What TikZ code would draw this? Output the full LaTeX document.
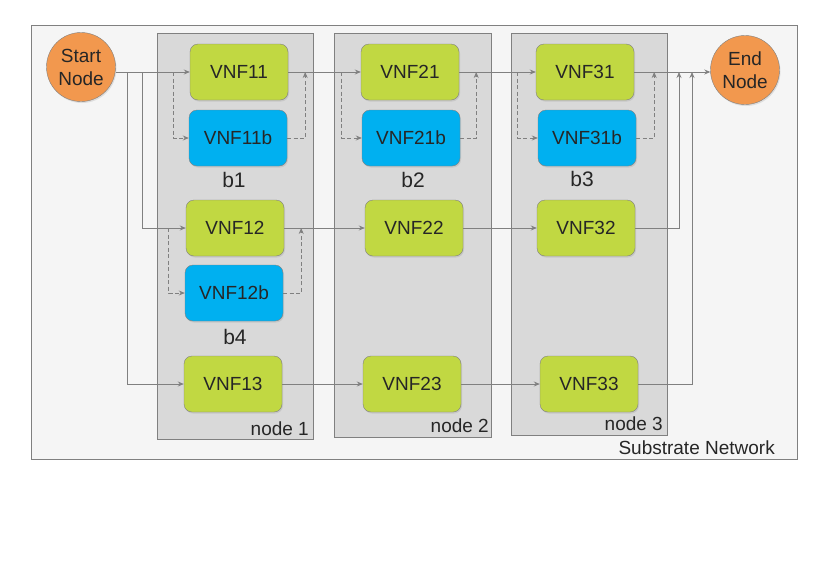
\documentclass[tikz,border=0pt]{standalone}
\usepackage{fontspec}
\setmainfont{Liberation Sans}
\usetikzlibrary{arrows.meta,shadows}
\definecolor{vnfgreen}{RGB}{193,216,66}
\definecolor{vnfblue}{RGB}{0,176,240}
\definecolor{endorange}{RGB}{242,152,78}
\definecolor{boxgray}{RGB}{217,217,217}
\definecolor{linegray}{RGB}{128,128,128}
\definecolor{textgray}{RGB}{38,38,38}
\tikzset{
  vnf/.style={draw=linegray, fill=vnfgreen, rounded corners=8pt, minimum width=98pt,
    minimum height=56pt, text=textgray, font=\fontsize{19}{22}\selectfont,
    drop shadow={opacity=0.2, shadow xshift=1pt, shadow yshift=-1.5pt}},
  backup/.style={vnf, fill=vnfblue},
  endpoint/.style={circle, draw=linegray, fill=endorange, minimum size=69pt, inner sep=0pt,
    align=center, text=textgray, font=\fontsize{19}{23}\selectfont,
    drop shadow={opacity=0.2, shadow xshift=1pt, shadow yshift=-1.5pt}},
  server/.style={draw=linegray, fill=boxgray},
  label/.style={text=textgray, font=\fontsize{19}{22}\selectfont, inner sep=0pt},
  flow/.style={draw=linegray, line width=0.8pt, -{Stealth[length=6pt,width=5pt]}},
  bflow/.style={flow, dash pattern=on 4pt off 2.5pt}
}
\begin{document}
\begin{tikzpicture}[x=1pt, y=-1pt]
        \useasboundingbox (0,0) rectangle (830,587);
        % substrate network
        \draw[linegray, fill=gray!8] (31,25) rectangle (797,459);
        \node[label, anchor=east] (sub) at (775,448) {Substrate Network};
        % physical nodes
        \draw[server] (157,33) rectangle (313,439);
        \draw[server] (334,33) rectangle (491,437);
        \draw[server] (511,33) rectangle (667,435);
        \node[label, anchor=east] (n1) at (309,429) {node 1};
        \node[label, anchor=east] (n2) at (489,426) {node 2};
        \node[label, anchor=east] (n3) at (663,424) {node 3};
        % end points
        \node[endpoint] (start) at (81,67) {Start\\Node};
        \node[endpoint] (end) at (745,70) {End\\Node};
        % vnfs
        \node[vnf] (vnf11) at (239,72) {VNF11};
        \node[backup] (vnf11b) at (238,138) {VNF11b};
        \node[vnf] (vnf21) at (410,72) {VNF21};
        \node[backup] (vnf21b) at (411,138) {VNF21b};
        \node[vnf] (vnf31) at (585,72) {VNF31};
        \node[backup] (vnf31b) at (587,138) {VNF31b};
        \node[vnf] (vnf12) at (235,228) {VNF12};
        \node[backup] (vnf12b) at (234,293) {VNF12b};
        \node[vnf] (vnf22) at (414,228) {VNF22};
        \node[vnf] (vnf32) at (586,228) {VNF32};
        \node[vnf] (vnf13) at (233,384) {VNF13};
        \node[vnf] (vnf23) at (412,384) {VNF23};
        \node[vnf] (vnf33) at (589,384) {VNF33};
        % backup names
        \node[label, font=\fontsize{21}{24}\selectfont] (b1) at (234,180) {b1};
        \node[label, font=\fontsize{21}{24}\selectfont] (b2) at (413,180) {b2};
        \node[label, font=\fontsize{21}{24}\selectfont] (b3) at (582,179) {b3};
        \node[label, font=\fontsize{21}{24}\selectfont] (b4) at (235,337) {b4};
        % junctions
        \coordinate (s2) at (142,72);
        \coordinate (s3) at (127,72);
        \coordinate (j2) at (679,72);
        \coordinate (j3) at (692,72);
        % chain 1
        \draw[flow] (vnf11.west -| start.east) -- (vnf11);
        \draw[flow] (vnf11) -- (vnf21);
        \draw[flow] (vnf21) -- (vnf31);
        \draw[flow] (vnf31) -- (vnf31 -| end.west);
        \draw[bflow] ([xshift=-16pt]vnf11.west) |- (vnf11b);
        \draw[bflow] (vnf11b) -| ([xshift=17pt]vnf11.east);
        \draw[bflow] ([xshift=-19pt]vnf21.west) |- (vnf21b);
        \draw[bflow] (vnf21b) -| ([xshift=17pt]vnf21.east);
        \draw[bflow] ([xshift=-18pt]vnf31.west) |- (vnf31b);
        \draw[bflow] (vnf31b) -| ([xshift=20pt]vnf31.east);
        % chain 2
        \draw[flow] (s2) |- (vnf12);
        \draw[flow] (vnf12) -- (vnf22);
        \draw[flow] (vnf22) -- (vnf32);
        \draw[flow] (vnf32) -| (j2);
        \draw[bflow] ([xshift=-17pt]vnf12.west) |- (vnf12b);
        \draw[bflow] (vnf12b) -| ([xshift=17pt]vnf12.east);
        % chain 3
        \draw[flow] (s3) |- (vnf13);
        \draw[flow] (vnf13) -- (vnf23);
        \draw[flow] (vnf23) -- (vnf33);
        \draw[flow] (vnf33) -| (j3);
\end{tikzpicture}
\end{document}
